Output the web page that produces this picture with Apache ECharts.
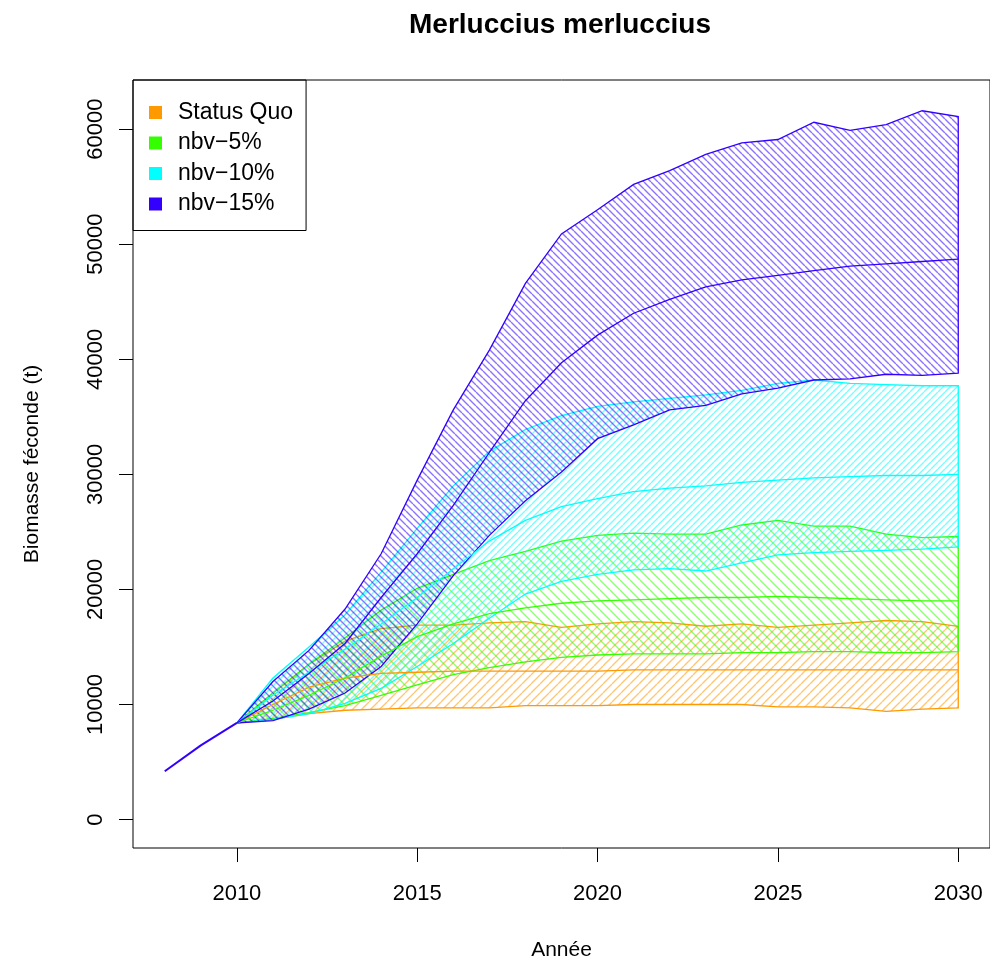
<!DOCTYPE html>
<html>
<head>
<meta charset="utf-8">
<script src="https://cdn.jsdelivr.net/npm/echarts@6.0.0/dist/echarts.min.js"></script>
<style>
  html, body { margin: 0; padding: 0; background: #fff; }
  #chart { width: 990px; height: 966px; }
</style>
</head>
<body>
<div id="chart"></div>
<script>
const years = [2010, 2011, 2012, 2013, 2014, 2015, 2016, 2017, 2018, 2019, 2020,
               2021, 2022, 2023, 2024, 2025, 2026, 2027, 2028, 2029, 2030];
const histYears = [2008, 2009, 2010];
const histValues = [4200, 6450, 8400];

// Status Quo
const sqLow = [8400, 8700, 9200, 9500, 9600, 9700, 9700, 9700, 9900, 9900, 9900, 10000, 10000, 10000, 10000, 9800, 9800, 9700, 9400, 9600, 9700];
const sqMed = [8400, 10000, 11500, 12300, 12700, 12800, 12900, 12900, 12900, 12900, 12900, 13000, 13000, 13000, 13000, 13000, 13000, 13000, 13000, 13000, 13000];
const sqUp = [8400, 11000, 13500, 15500, 16600, 16900, 16900, 17100, 17200, 16700, 17000, 17200, 17100, 16800, 17000, 16700, 16900, 17100, 17300, 17200, 16800];
// nbv-5%
const n5Low = [8400, 8800, 9300, 9900, 10800, 11700, 12600, 13200, 13700, 14100, 14300, 14400, 14400, 14400, 14500, 14500, 14600, 14600, 14500, 14500, 14600];
const n5Med = [8400, 9500, 10800, 12300, 14200, 15900, 17000, 17900, 18400, 18800, 19000, 19100, 19200, 19300, 19300, 19400, 19300, 19200, 19100, 19000, 19000];
const n5Up = [8400, 11000, 13500, 15800, 18200, 20100, 21300, 22500, 23300, 24200, 24700, 24900, 24800, 24800, 25600, 26000, 25500, 25500, 24800, 24500, 24600];
// nbv-10%
const n10Low = [8400, 8700, 9200, 10100, 11400, 13300, 15300, 17500, 19600, 20700, 21300, 21700, 21800, 21600, 22300, 23000, 23200, 23300, 23400, 23500, 23700];
const n10Med = [8400, 10800, 12800, 14800, 17000, 19300, 21800, 24200, 26000, 27200, 27900, 28500, 28800, 29000, 29300, 29500, 29700, 29800, 29900, 29900, 30000];
const n10Up = [8400, 12300, 15000, 17800, 21500, 25300, 29000, 32000, 33900, 35100, 35900, 36300, 36600, 36900, 37300, 37900, 38200, 37900, 37800, 37700, 37700];
// nbv-15%
const n15Low = [8400, 8600, 9600, 11000, 13300, 17000, 21200, 24700, 27700, 30200, 33100, 34300, 35600, 36000, 37000, 37500, 38200, 38300, 38700, 38600, 38800];
const n15Med = [8400, 10300, 12700, 15300, 19300, 23100, 27300, 31900, 36400, 39700, 42100, 44000, 45200, 46300, 46900, 47300, 47700, 48100, 48300, 48500, 48700];
const n15Up = [8400, 12000, 14700, 18300, 23100, 29500, 35600, 40800, 46600, 50900, 53000, 55200, 56400, 57800, 58800, 59100, 60600, 59900, 60400, 61600, 61100];

const xTicks = [2010, 2015, 2020, 2025, 2030];
const yTicks = [0, 10000, 20000, 30000, 40000, 50000, 60000];

const FONT = '"Liberation Sans", Arial, sans-serif';

// hatching like R polygon(density=...)
function hatch(color, step, dir) {
  const c = document.createElement('canvas');
  c.width = step; c.height = step;
  const g = c.getContext('2d');
  g.strokeStyle = color;
  g.globalAlpha = 0.55;
  g.lineWidth = 1.4;
  g.beginPath();
  for (let k = -1; k <= 1; k++) {
    if (dir > 0) {
      g.moveTo(k * step, step); g.lineTo(k * step + step, 0);
    } else {
      g.moveTo(k * step, 0); g.lineTo(k * step + step, step);
    }
  }
  g.stroke();
  return { image: c, repeat: 'repeat' };
}

const scenarios = [
  { name: 'Status Quo', color: '#FF9900', low: sqLow, med: sqMed, up: sqUp, step: 9, dir: 1 },
  { name: 'nbv\u22125%', color: '#33FF00', low: n5Low, med: n5Med, up: n5Up, step: 10, dir: -1 },
  { name: 'nbv\u221210%', color: '#00FFFF', low: n10Low, med: n10Med, up: n10Up, step: 7, dir: 1 },
  { name: 'nbv\u221215%', color: '#3300FF', low: n15Low, med: n15Med, up: n15Up, step: 7, dir: -1 }
];

const series = [];
scenarios.forEach(s => {
  const pattern = hatch(s.color, s.step, s.dir);
  series.push({
    type: 'custom',
    name: s.name,
    silent: true,
    itemStyle: { color: s.color },
    data: [[years[0], s.low[0]]],
    renderItem: (params, api) => {
      const pts = [];
      years.forEach((y, i) => pts.push(api.coord([y, s.up[i]])));
      for (let i = years.length - 1; i >= 0; i--) pts.push(api.coord([years[i], s.low[i]]));
      return {
        type: 'polygon',
        shape: { points: pts },
        style: { fill: pattern, stroke: s.color, lineWidth: 1.3 }
      };
    }
  });
  series.push({
    type: 'line',
    name: s.name + ' med',
    silent: true,
    symbol: 'none',
    data: years.map((y, i) => [y, s.med[i]]),
    lineStyle: { color: s.color, width: 1.3 }
  });
});
series.push({
  type: 'line',
  name: 'hist',
  silent: true,
  symbol: 'none',
  data: histYears.map((y, i) => [y, histValues[i]]),
  lineStyle: { color: '#3300FF', width: 2 }
});

const chart = echarts.init(document.getElementById('chart'));
chart.setOption({
  animation: false,
  backgroundColor: '#fff',
  title: {
    text: 'Merluccius merluccius',
    left: 555, top: 6, textAlign: 'center',
    textStyle: { fontFamily: FONT, fontSize: 28, fontWeight: 'bold', color: '#000' }
  },
  legend: {
    orient: 'vertical', left: 133, top: 80,
    borderColor: '#000', borderWidth: 1,
    padding: [21, 13, 15, 16],
    itemGap: 7.5, itemWidth: 13, itemHeight: 13, icon: 'rect',
    selectedMode: false,
    textStyle: { fontFamily: FONT, fontSize: 23, color: '#000', padding: [0, 0, 0, 11] },
    data: scenarios.map(s => s.name)
  },
  grid: {
    left: 133, right: -2, top: 80, bottom: 118,
    show: true, borderColor: '#000', borderWidth: 1
  },
  xAxis: {
    type: 'value', min: 2007.12, max: 2030.88,
    name: 'Ann\u00e9e', nameLocation: 'middle', nameGap: 92,
    nameTextStyle: { fontFamily: FONT, fontSize: 21, color: '#000' },
    splitLine: { show: false },
    axisLine: { show: false, onZero: false },
    axisTick: { show: true, inside: false, length: 14, lineStyle: { color: '#000' }, customValues: xTicks },
    axisLabel: { fontFamily: FONT, fontSize: 22, color: '#000', margin: 35, customValues: xTicks, formatter: v => String(v) }
  },
  yAxis: {
    type: 'value', min: -2472, max: 64272,
    name: 'Biomasse f\u00e9conde (t)', nameLocation: 'middle', nameGap: 90,
    nameTextStyle: { fontFamily: FONT, fontSize: 21, color: '#000' },
    splitLine: { show: false },
    axisLine: { show: false, onZero: false },
    axisTick: { show: true, inside: false, length: 14, lineStyle: { color: '#000' }, customValues: yTicks },
    axisLabel: { fontFamily: FONT, fontSize: 22, color: '#000', margin: 26, rotate: 90, customValues: yTicks, formatter: v => String(v) }
  },
  series: series
});
</script>
</body>
</html>
